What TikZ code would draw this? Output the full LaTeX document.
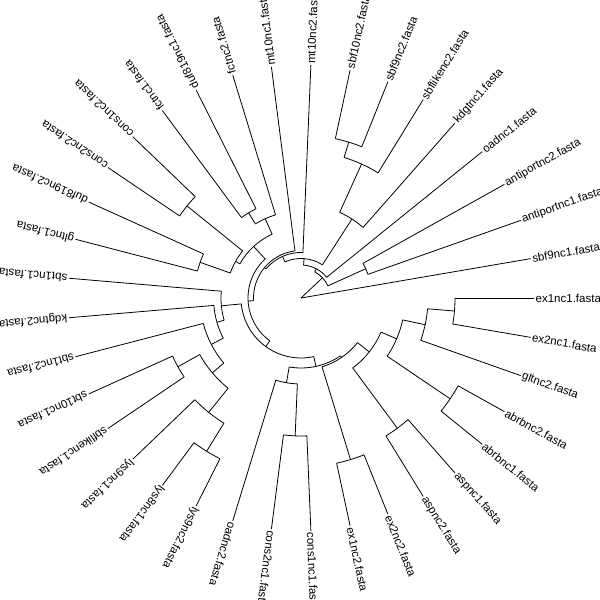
\documentclass[tikz,border=0pt]{standalone}
\usepackage{fontspec}
\setmainfont{Liberation Sans}
\begin{document}
\begin{tikzpicture}[
      x=1pt, y=1pt,
      branch/.style={line width=0.8pt,black},
      tiplabel/.style={anchor=west,inner sep=1.5pt,font=\fontsize{11.5}{13}\selectfont},
      ]
      \useasboundingbox (0,0) rectangle (600,600);
      \clip (0,0) rectangle (600,600);
      \def\rtip{233}
      \begin{scope}[shift={(301,302)}]
      \coordinate (root) at (0,0);
      \foreach \nm/\ang/\rad/\prad in {K/43.28/29.5/0, L/24.32/71/29.5, K2/62.23/33/29.5,
          M/85.54/39.5/33, C/57.16/94/39.5, B/65.68/147/94, A/72.97/163/147,
          P0/113.93/45.5/39.5, X/140.28/47.5/45.5, BB/183.27/53/47.5,
          GG/132.57/70/53, H/114.32/87/70, E/121.62/100/87, J/150.81/75/70,
          G/141.08/146.5/75, KK/160.54/107/75,
          CC/233.97/60/53, DX/185.63/80/60, DY/196.11/87.5/80, DW/207.36/101/87.5,
          OO/220.14/116/101, NN/209.19/141/116, MM/231.08/147/116, LL/238.38/180/147,
          AA/282.31/70/60, Z/260.27/86/70, Y/267.57/138/86, AB/304.36/72/70,
          X1/287.03/169/72, W/321.69/87/72, V/306.49/162/87, T/336.89/104/87,
          U/325.95/180/104, S/347.84/127/104, Q/355.14/154/127} {
        \coordinate (\nm) at (\ang:\rad);
        \coordinate (\nm-b) at (\ang:\prad);
        \draw[branch] (\nm-b) -- (\nm);
      }
      \foreach \ra/\aa/\ab in {29.5/24.32/62.23, 33/38.92/85.54, 39.5/57.16/113.93,
          45.5/87.57/140.28, 47.5/97.30/183.27, 53/132.57/233.97, 70/114.32/150.81,
          87/107.03/121.62, 100/116.76/126.49, 75/141.08/160.54, 146.5/136.22/145.95,
          107/155.68/165.41, 71/19.46/29.19, 94/48.65/65.68, 147/58.38/72.97,
          163/68.11/77.84, 60/185.63/282.31, 80/175.14/196.11, 87.5/184.86/207.36,
          101/194.59/220.14, 116/209.19/231.08, 141/204.32/214.05, 147/223.78/238.38,
          180/233.51/243.24, 70/260.27/304.36, 86/252.97/267.57, 138/262.70/272.43,
          72/287.03/321.69, 169/282.16/291.89, 87/306.49/336.89, 162/301.62/311.35,
          104/325.95/347.84, 180/321.08/330.81, 127/340.54/355.14, 154/350.27/360} {
        \draw[branch] (\aa:\ra) arc[start angle=\aa, end angle=\ab, radius=\ra pt];
      }
      \foreach \i/\lab/\prad in {1/sbf9nc1/0, 2/antiportnc1/71, 3/antiportnc2/71,
          4/oadnc1/33, 5/kdgtnc1/94, 6/sbflikenc2/147, 7/sbf9nc2/163, 8/sbf10nc2/163,
          9/mt10nc2/45.5, 10/mt10nc1/47.5, 11/fctnc2/87, 12/duf819nc1/100,
          13/fctnc1/100, 14/cons1nc2/146.5, 15/cons2nc2/146.5, 16/duf819nc2/107,
          17/gltnc1/107, 18/sbt1nc1/80, 19/kdgtnc2/87.5, 20/sbt1nc2/101,
          21/sbt10nc1/141, 22/sbflikenc1/141, 23/lys9nc1/147, 24/lys8nc1/180,
          25/lys9nc2/180, 26/oadnc2/86, 27/cons2nc1/138, 28/cons1nc1/138,
          29/ex1nc2/169, 30/ex2nc2/169, 31/aspnc2/162, 32/aspnc1/162,
          33/abrbnc1/180, 34/abrbnc2/180, 35/gltnc2/127, 36/ex2nc1/154,
          37/ex1nc1/154} {
        \pgfmathsetmacro\ang{\i*360/37}
        \node[tiplabel,rotate=\ang] (t\i) at (\ang:\rtip) {\lab.fasta};
        \coordinate (t\i-b) at (\ang:\prad);
        \draw[branch] (t\i-b) -- (t\i.west);
      }
      \end{scope}
\end{tikzpicture}
\end{document}
